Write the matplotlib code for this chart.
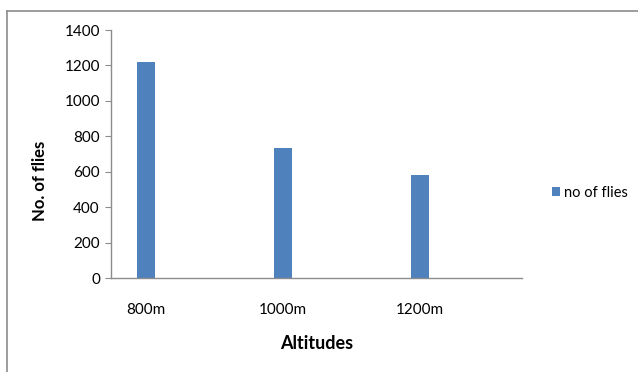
import matplotlib.pyplot as plt
from matplotlib.lines import Line2D

altitudes = ["800m", "1000m", "1200m"]
flies = [1220, 735, 580]

W, H = 638, 372
fig = plt.figure(figsize=(W / 100, H / 100), dpi=100)
plt.rcParams['font.family'] = ['Lato', 'DejaVu Sans']

# plot area in pixel coordinates
left, right, top, bottom = 111, 522, 30, 278.3
ax = fig.add_axes([left / W, 1 - bottom / H, (right - left) / W, (bottom - top) / H])

x = range(len(altitudes))
ax.bar(x, flies, width=0.13, color='#4F81BD', label='no of flies', zorder=2)

ax.set_xlim(-0.253, 2.747)
ax.set_ylim(0, 1400)
ax.set_yticks(range(0, 1401, 200))
ax.set_xticks(list(x))
ax.set_xticklabels(altitudes)

for s in ['top', 'right']:
    ax.spines[s].set_visible(False)
for s in ['left', 'bottom']:
    ax.spines[s].set_color('#8c8c8c')
    ax.spines[s].set_linewidth(1.0)

ax.tick_params(axis='y', length=4, color='#8c8c8c', labelsize=11, pad=4)
ax.tick_params(axis='x', length=0, labelsize=11, pad=18)

ax.set_xlabel('Altitudes', fontsize=13, fontweight='bold', labelpad=13)
fig.text(40 / W, 1 - 181 / H, 'No. of flies', rotation=90, ha='center', va='center',
         fontsize=12, fontweight='bold')

# legend to the right of the plot area
fig.legend(loc='center left', bbox_to_anchor=(546 / W, 1 - 193 / H), frameon=False,
           fontsize=10.5, handlelength=0.55, handleheight=0.55, handletextpad=0.3,
           borderaxespad=0)

# chart border (top and left edges)
fig.add_artist(Line2D([7 / W, 1], [1 - 11 / H, 1 - 11 / H], color='#8c8c8c', lw=1.2,
                      transform=fig.transFigure))
fig.add_artist(Line2D([7 / W, 7 / W], [0, 1 - 11 / H], color='#8c8c8c', lw=1.2,
                      transform=fig.transFigure))

fig.savefig('out.png', dpi=100)
